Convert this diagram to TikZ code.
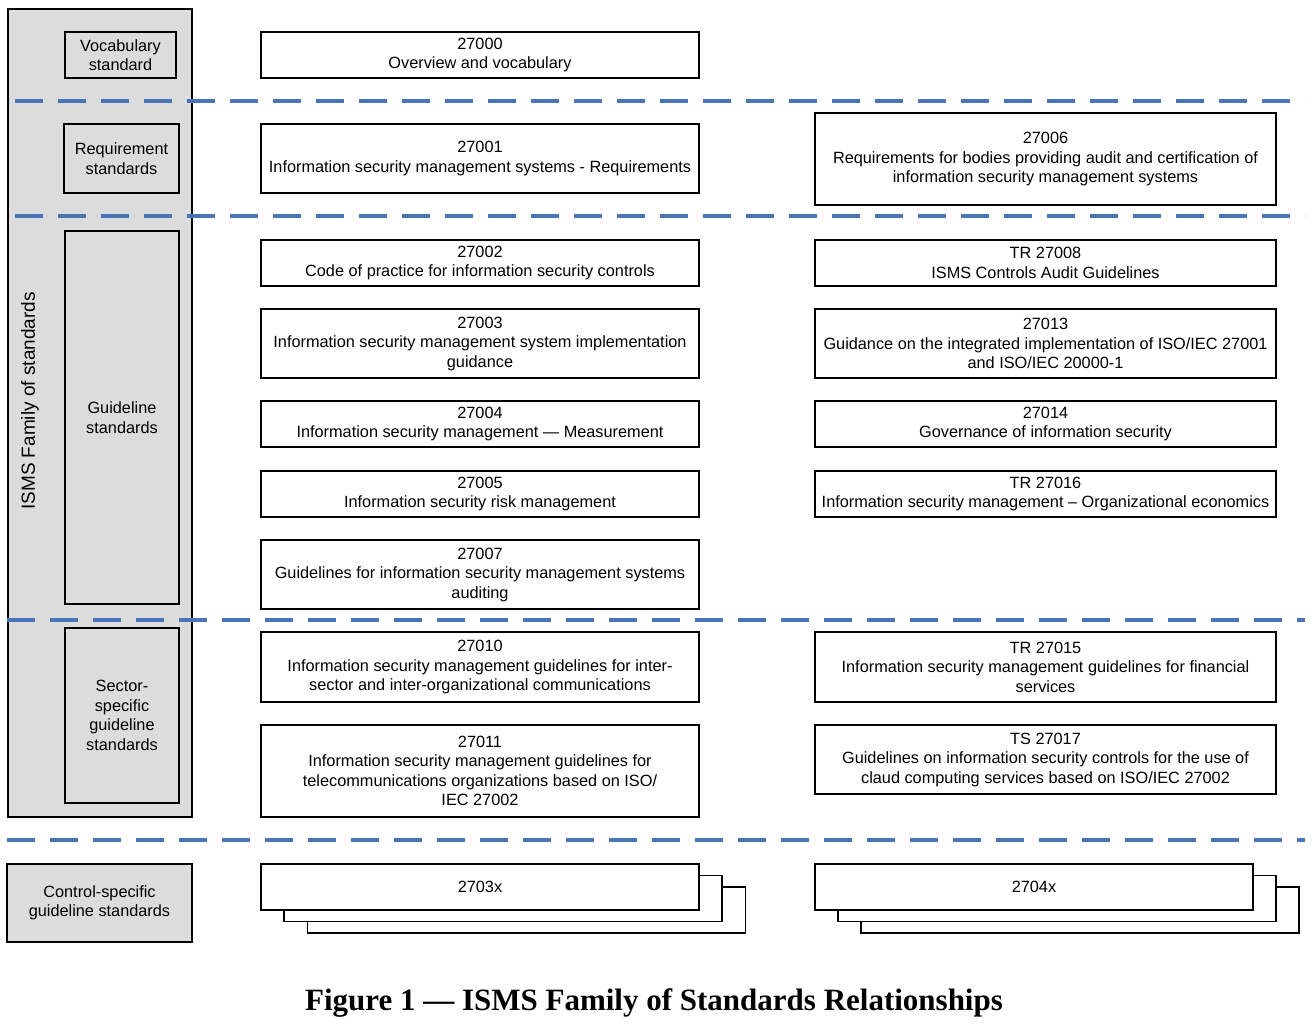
\documentclass[tikz,border=0pt]{standalone}
\usepackage{fontspec}
\setmainfont{Liberation Sans}
\newfontfamily\capfont{Liberation Serif}
\definecolor{greyfill}{HTML}{DCDCDC}
\definecolor{dashblue}{HTML}{4A74B8}
\begin{document}
\begin{tikzpicture}[x=1pt,y=-1pt,
  box/.style={draw=black,line width=1.8pt,fill=white,inner sep=0pt,align=center,
    font=\fontsize{16.3}{19.5}\selectfont},
  gbox/.style={box,fill=greyfill},
  sep/.style={draw=dashblue,line width=4pt,dash pattern=on 28pt off 15pt},
  lw/.style={box,minimum width=438pt},
  rw/.style={box,minimum width=461pt}]
\useasboundingbox (0,0) rectangle (1312,1023);
% outer family box
\node[gbox,minimum width=184pt,minimum height=808pt] (fam) at (100,413) {};
\node[rotate=90,font=\fontsize{19}{22}\selectfont] (famlbl) at (30,401) {ISMS Family of standards};
% category boxes
\node[gbox,minimum width=111pt,minimum height=46pt] (voc) at (120.5,55) {Vocabulary\\standard};
\node[gbox,minimum width=115pt,minimum height=69pt] (req) at (121.5,158.5) {Requirement\\standards};
\node[gbox,minimum width=114pt,minimum height=373pt] (gui) at (122,417.5) {Guideline\\standards};
\node[gbox,minimum width=114pt,minimum height=175pt] (sec) at (122,715.5) {Sector-\\specific\\guideline\\standards};
\node[gbox,minimum width=185pt,minimum height=78pt] (ctl) at (99.5,903) {Control-specific\\guideline standards};
% dashed separators
\coordinate (d1a) at (15,101); \coordinate (d1b) at (1305,101);
\coordinate (d2a) at (15,216); \coordinate (d2b) at (1305,216);
\coordinate (d3a) at (7,620);  \coordinate (d3b) at (1305,620);
\coordinate (d4a) at (7,840);  \coordinate (d4b) at (1305,840);
\draw[sep] (d1a) -- (d1b);
\draw[sep] (d2a) -- (d2b);
\draw[sep] (d3a) -- (d3b);
\draw[sep] (d4a) -- (d4b);
% left column
\node[lw,minimum height=46pt] (s27000) at (480,55) {27000\\Overview and vocabulary};
\node[lw,minimum height=69pt] (s27001) at (480,158.5) {27001\\Information security management systems - Requirements};
\node[lw,minimum height=46pt] (s27002) at (480,263) {27002\\Code of practice for information security controls};
\node[lw,minimum height=69pt] (s27003) at (480,343.5) {27003\\Information security management system implementation\\guidance};
\node[lw,minimum height=46pt] (s27004) at (480,424) {27004\\Information security management — Measurement};
\node[lw,minimum height=46pt] (s27005) at (480,494) {27005\\Information security risk management};
\node[lw,minimum height=69pt] (s27007) at (480,574.5) {27007\\Guidelines for information security management systems\\auditing};
\node[lw,minimum height=70pt] (s27010) at (480,667) {27010\\Information security management guidelines for inter-\\sector and inter-organizational communications};
\node[lw,minimum height=92pt] (s27011) at (480,771) {27011\\Information security management guidelines for\\telecommunications organizations based on ISO/\\IEC 27002};
% right column
\node[rw,minimum height=92pt] (s27006) at (1045.5,159) {27006\\Requirements for bodies providing audit and certification of\\information security management systems};
\node[rw,minimum height=46pt] (s27008) at (1045.5,263) {TR 27008\\ISMS Controls Audit Guidelines};
\node[rw,minimum height=69pt] (s27013) at (1045.5,343.5) {27013\\Guidance on the integrated implementation of ISO/IEC 27001\\and ISO/IEC 20000-1};
\node[rw,minimum height=46pt] (s27014) at (1045.5,424) {27014\\Governance of information security};
\node[rw,minimum height=46pt] (s27016) at (1045.5,494) {TR 27016\\Information security management – Organizational economics};
\node[rw,minimum height=70pt] (s27015) at (1045.5,667) {TR 27015\\Information security management guidelines for financial\\services};
\node[rw,minimum height=69pt] (s27017) at (1045.5,759.5) {TS 27017\\Guidelines on information security controls for the use of\\claud computing services based on ISO/IEC 27002};
% stacked boxes
\node[lw,minimum height=46pt] (s2703c) at (526.5,910) {};
\node[lw,minimum height=46pt] (s2703b) at (503,898.5) {};
\node[lw,minimum height=46pt] (s2703x) at (480,887) {2703x};
\node[lw,minimum height=46pt] (s2704c) at (1080,910) {};
\node[lw,minimum height=46pt] (s2704b) at (1057,898.5) {};
\node[lw,minimum height=46pt] (s2704x) at (1034,887) {2704x};
% caption
\node[font=\capfont\bfseries\fontsize{31}{36}\selectfont] (cap) at (654,1003) {Figure 1 — ISMS Family of Standards Relationships};
\end{tikzpicture}
\end{document}
